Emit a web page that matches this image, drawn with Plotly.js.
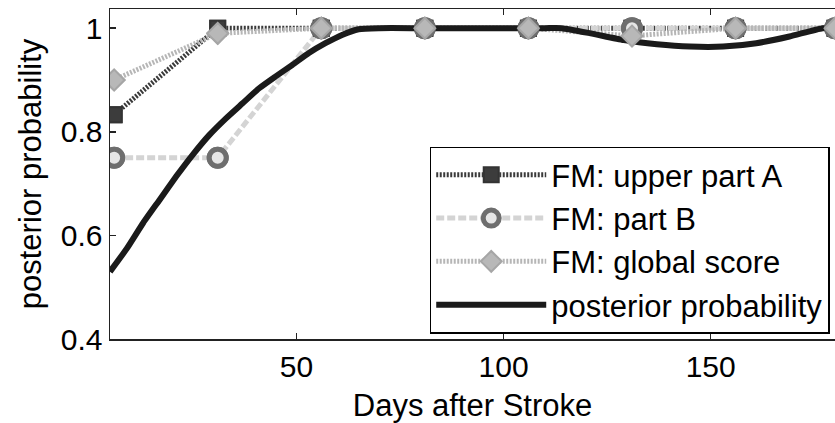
<!DOCTYPE html>
<html>
<head>
<meta charset="utf-8">
<script src="https://cdn.plot.ly/plotly-3.0.1.min.js"></script>
<style>
  html, body { margin: 0; padding: 0; background: #ffffff; }
  #chart { width: 835px; height: 423px; }
</style>
</head>
<body>
<div id="chart"></div>
<script>
// Follow-up visits (days after stroke) and Fugl-Meyer based probabilities
const visitDays   = [6, 31, 56, 81, 106, 131, 156, 180];
const upperPartA  = [0.833, 1, 1, 1, 1, 1, 1, 1];
const partB       = [0.75, 0.75, 1, 1, 1, 1, 1, 1];
const globalScore = [0.9, 0.99, 1, 1, 1, 0.985, 1, 1];

// Smoothed posterior probability curve
const curveDays = [5, 9, 13, 17, 21, 25, 29, 33, 37, 41, 45, 49, 53, 57, 61, 65,
                   70, 80, 90, 100, 110, 114, 121, 129, 137, 145, 153, 161, 169, 177, 180];
const posterior = [0.530, 0.574, 0.624, 0.669, 0.714, 0.756, 0.794, 0.826, 0.855, 0.884,
                   0.907, 0.929, 0.952, 0.971, 0.987, 0.998, 1, 1, 1, 1, 1, 1, 0.990,
                   0.977, 0.969, 0.9645, 0.9645, 0.971, 0.984, 1, 1];

const seriesNames = ['FM: upper part A', 'FM: part B', 'FM: global score', 'posterior probability'];
const xTicks = [50, 100, 150];
const yTicks = [0.4, 0.6, 0.8, 1];
const yTickText = ['0.4', '0.6', '0.8', '1'];

const FONT = 'Liberation Sans, Arial, Helvetica, sans-serif';

const styles = [
  { line: { color: '#3a3a3a', width: 5, dash: '2px,1.5px' },
    marker: { symbol: 'square', size: 15, color: '#3c3c3c', line: { color: '#333333', width: 2 } } },
  { line: { color: '#d4d4d4', width: 5, dash: '8px,3px' },
    marker: { symbol: 'circle', size: 17, color: '#e6e6e6', line: { color: '#6e6e6e', width: 5 } } },
  { line: { color: '#b6b6b6', width: 5, dash: '2px,1.5px' },
    marker: { symbol: 'diamond', size: 16, color: '#b8b8b8', line: { color: '#a6a6a6', width: 2 } } }
];
const scoreSeries = [upperPartA, partB, globalScore];

const traces = [];
// score lines (with legend entries)
scoreSeries.forEach((ys, i) => {
  traces.push({
    x: visitDays, y: ys, name: seriesNames[i], type: 'scatter', mode: 'lines+markers',
    line: styles[i].line, marker: styles[i].marker, legendrank: i + 1
  });
});
// posterior curve above the dotted lines
traces.push({
  x: curveDays, y: posterior, name: seriesNames[3], type: 'scatter', mode: 'lines',
  line: { color: '#1a1a1a', width: 6, shape: 'spline', smoothing: 0.5 }, legendrank: 4
});
// markers redrawn on top of everything
scoreSeries.forEach((ys, i) => {
  traces.push({
    x: visitDays, y: ys, type: 'scatter', mode: 'markers', showlegend: false,
    marker: styles[i].marker, hoverinfo: 'skip'
  });
});

const layout = {
  width: 835, height: 423,
  margin: { l: 110, r: 0, t: 9, b: 84, autoexpand: false },
  paper_bgcolor: '#ffffff', plot_bgcolor: '#ffffff',
  font: { family: FONT, size: 30, color: '#000000' },
  showlegend: true,
  legend: {
    x: 0.441, y: 0.583, xanchor: 'left', yanchor: 'top',
    bgcolor: '#ffffff', bordercolor: '#000000', borderwidth: 1.5,
    font: { family: FONT, size: 31, color: '#000000' },
    itemwidth: 110, traceorder: 'normal'
  },
  xaxis: {
    range: [5, 180], tickvals: xTicks, ticks: 'inside', ticklen: 6, tickwidth: 1.5,
    tickcolor: '#222', showline: true, linecolor: '#222', linewidth: 1.5, mirror: 'ticks',
    showgrid: false, zeroline: false, tickfont: { size: 30 },
    title: { text: 'Days after Stroke', font: { size: 31 }, standoff: 14 }
  },
  yaxis: {
    range: [0.4, 1.037], tickvals: yTicks, ticktext: yTickText, ticks: 'inside', ticklen: 6,
    tickwidth: 1.5, tickcolor: '#222', showline: true, linecolor: '#222', linewidth: 1.5,
    mirror: false, showgrid: false, zeroline: false, tickfont: { size: 30 },
    title: { text: 'posterior probability', font: { size: 31 }, standoff: 10 }
  }
};

Plotly.newPlot('chart', traces, layout, { displayModeBar: false, staticPlot: true });
</script>
</body>
</html>
